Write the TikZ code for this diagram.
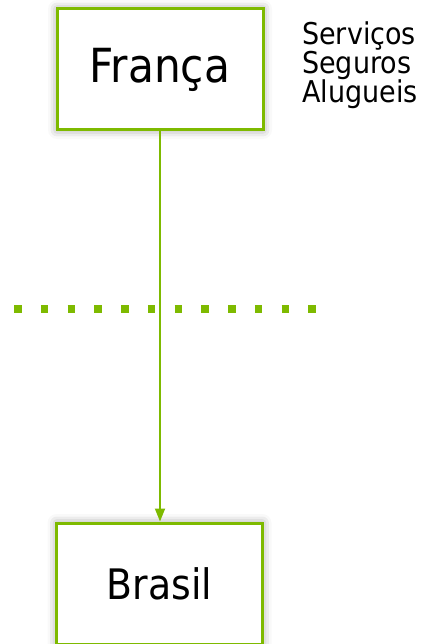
\documentclass[tikz,border=0pt]{standalone}
\usepackage{fontspec}
\setmainfont{DejaVu Sans Condensed}
\usetikzlibrary{arrows.meta,shadows.blur}
\definecolor{lgreen}{RGB}{126,186,0}
\tikzset{
  box/.style={draw=lgreen, line width=3pt, fill=white, inner sep=0pt,
    minimum width=206pt, minimum height=121pt,
    blur shadow={shadow xshift=0pt, shadow yshift=0pt, shadow blur radius=9pt, shadow opacity=40}},
  conn/.style={draw=lgreen, line width=1.8pt, -{Triangle[width=10pt,length=13pt]}},
  side/.style={anchor=base west, inner sep=0pt, font=\fontsize{30}{33}\selectfont},
  sep/.style={draw=lgreen, line width=7.5pt, dash pattern=on 7.5pt off 19.23pt}
}
\begin{document}
\begin{tikzpicture}[x=1pt,y=-1pt]
\useasboundingbox (0,0) rectangle (434,644);
\node[box, font=\fontsize{47}{52}\selectfont] (fr) at (160,69.5) {França};
\node[box, font=\fontsize{42}{47}\selectfont] (br) at (159.5,583.5) {Brasil};
\draw[sep] (14.25,309) -- (316,309);
\draw[conn] (fr.south) -- (fr.south |- br.north);
\node[side] (s1) at (302,45) {Serviços};
\node[side] (s2) at (302,74) {Seguros};
\node[side] (s3) at (302,103) {Alugueis};
\end{tikzpicture}
\end{document}
